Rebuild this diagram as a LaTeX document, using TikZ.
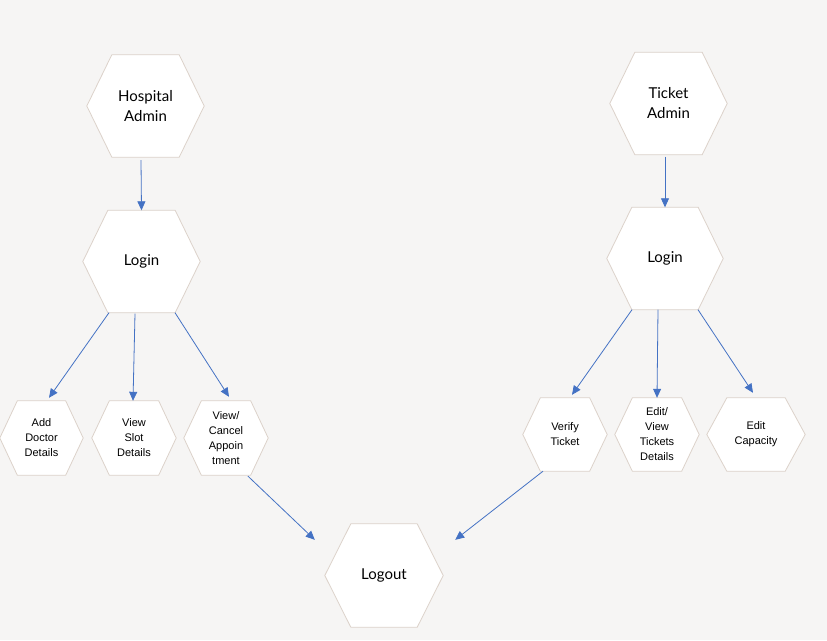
\documentclass[tikz,border=0pt]{standalone}
\usepackage{fontspec}
\setmainfont{Lato}
\newfontfamily\smallsans{Liberation Sans}
\usetikzlibrary{arrows.meta,backgrounds}

\definecolor{canvas}{HTML}{F6F5F4}
\definecolor{hexline}{HTML}{DCD2CA}
\definecolor{flow}{HTML}{4472C4}

% draw a flat-topped hexagon filling the box of node #1, with corner inset #2
\newcommand\hexpath[2]{%
  \path[hexbody] (#1.west) -- ([xshift=#2]#1.north west) -- ([xshift=-#2]#1.north east)
    -- (#1.east) -- ([xshift=-#2]#1.south east) -- ([xshift=#2]#1.south west) -- cycle;}

\begin{document}
\begin{tikzpicture}[x=1pt,y=-1pt,
  hexbody/.style={draw=hexline,fill=white,line width=0.8pt},
  bighex/.style={draw=none,inner sep=0pt,minimum width=117pt,minimum height=102pt,
    align=center,font=\fontsize{15}{20}\selectfont},
  smallhex/.style={draw=none,inner sep=0pt,minimum width=84pt,minimum height=74pt,
    align=center,font=\smallsans\fontsize{11}{15}\selectfont},
  flowarrow/.style={draw=flow,line width=0.8pt,-{Triangle[length=9pt,width=8pt]}}]

\useasboundingbox (0,0) rectangle (827,640);

% hospital side
\node[bighex] (hadm) at (145.5,106) {Hospital\\Admin};
\node[bighex] (hlogin) at (141.5,261.5) {Login};
\node[smallhex,minimum width=83pt] (add) at (41.5,438) {Add\\Doctor\\Details};
\node[smallhex] (slot) at (134,438) {View\\Slot\\Details};
\node[smallhex] (appt) at (226,438) {View/\\Cancel\\Appoin\\tment};

% ticket side
\node[bighex] (tadm) at (668.5,103.5) {Ticket\\Admin};
\node[bighex,minimum width=116pt] (tlogin) at (665,258.5) {Login};
\node[smallhex,minimum height=73pt] (verify) at (565,434.5) {Verify\\Ticket};
\node[smallhex,minimum height=73pt] (editview) at (657,434.5) {Edit/\\View\\Tickets\\Details};
\node[smallhex,minimum height=73pt,minimum width=98pt] (cap) at (756,434.5) {Edit\\Capacity};

% shared exit
\node[bighex,minimum width=118pt,minimum height=103pt] (logout) at (384,575.5) {Logout};

\begin{scope}[on background layer]
  \fill[canvas] (0,0) rectangle (827,640);
  \hexpath{hadm}{25pt}
  \hexpath{hlogin}{25pt}
  \hexpath{add}{17.5pt}
  \hexpath{slot}{17.5pt}
  \hexpath{appt}{17.5pt}
  \hexpath{tadm}{25pt}
  \hexpath{tlogin}{25pt}
  \hexpath{verify}{17.5pt}
  \hexpath{editview}{17.5pt}
  \hexpath{cap}{20pt}
  \hexpath{logout}{26pt}
\end{scope}

% connectors
\draw[flowarrow] ([xshift=-4.5pt,yshift=-3pt]hadm.south) -- (hlogin.north);
\draw[flowarrow] ([xshift=-32.5pt]hlogin.south) -- ([xshift=7.5pt,yshift=3pt]add.north);
\draw[flowarrow] ([xshift=-6.5pt,yshift=-1pt]hlogin.south) -- ([xshift=-1pt]slot.north);
\draw[flowarrow] ([xshift=33.5pt]hlogin.south) -- ([xshift=3pt,yshift=4pt]appt.north);

\draw[flowarrow] ([xshift=-3.5pt,yshift=-2pt]tadm.south) -- (tlogin.north);
\draw[flowarrow] ([xshift=-33pt]tlogin.south) -- ([xshift=7pt,yshift=3pt]verify.north);
\draw[flowarrow] ([xshift=-7pt]tlogin.south) -- (editview.north);
\draw[flowarrow] ([xshift=33pt]tlogin.south) -- ([xshift=-3pt,yshift=5pt]cap.north);

\draw[flowarrow] ([xshift=22pt,yshift=-1pt]appt.south) -- ([xshift=-10pt,yshift=-16pt]logout.north west);
\draw[flowarrow] ([xshift=-22pt]verify.south) -- ([xshift=12pt,yshift=-16pt]logout.north east);
\end{tikzpicture}
\end{document}
